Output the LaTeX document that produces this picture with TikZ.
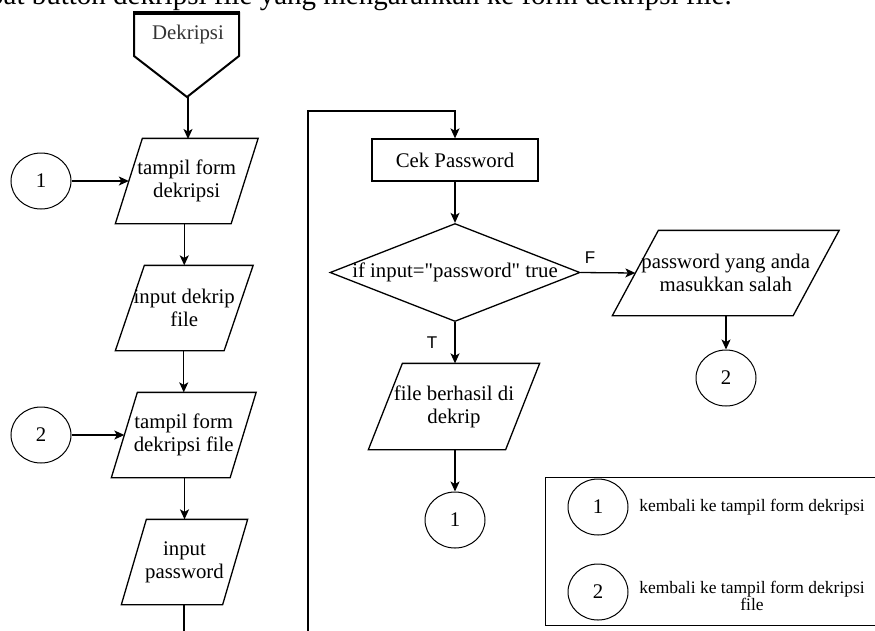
\documentclass[tikz,border=0pt]{standalone}
\usepackage{fontspec}
\setmainfont{Liberation Serif}[Ligatures=TeXOff]
\newfontfamily\labelsans{Liberation Sans}
\usetikzlibrary{shapes.geometric,arrows.meta,calc}
% parallelogram around a (mid-height sized) text node: #1 node name, #2 half slant
\newcommand\ioframe[2]{%
  \draw ($(#1.south west)+(-#2,0)$) -- ($(#1.south east)+(-#2,0)$)
     -- ($(#1.north east)+(#2,0)$) -- ($(#1.north west)+(#2,0)$) -- cycle;}
\begin{document}
\begin{tikzpicture}[x=1pt,y=-1pt,
  line width=1.3pt,
  arr/.style={-{Stealth[length=10pt,width=9pt,inset=2.5pt]}},
  bodytext/.style={font=\fontsize{20.8}{23}\selectfont, align=center},
  io/.style={bodytext, rectangle, inner sep=0pt, minimum height=84pt},
  conn/.style={draw, ellipse, line width=1pt, inner sep=0pt,
    minimum width=60pt, minimum height=56pt,
    font=\fontsize{20.8}{23}\selectfont},
  procbox/.style={bodytext, draw, rectangle, minimum width=166pt, minimum height=42pt},
  decision/.style={draw, diamond, inner sep=0pt, minimum width=250pt, minimum height=98pt},
  tflabel/.style={font=\labelsans\fontsize{17}{17}\selectfont, inner sep=0pt},
  legendtext/.style={font=\fontsize{17.5}{17}\selectfont, align=center},
]
\useasboundingbox (0,0) rectangle (875,630);
\clip (0,0) rectangle (875,630);

% running paragraph text above the chart
\node[anchor=base west, inner sep=0pt, font=\fontsize{29}{30}\selectfont]
  (para) at (-11.5,4) {pat button dekripsi file yang mengarahkan ke form dekripsi file.};

% off-page entry "Dekripsi"
\draw[line width=2pt, line join=miter] (134,13) -- (239,13) -- (239,56) -- (187,97) -- (134,56) -- cycle;
\draw[line width=3.2pt] (133,13) -- (240,13);
\node[bodytext, text=black!80] (dek) at (188,34) {Dekripsi};
\coordinate (dektip) at (188,97);

% left column
\node[io, minimum width=114.5pt] (p1) at (186.75,181) {tampil form\\dekripsi};
\ioframe{p1}{13.5}
\node[io, minimum width=107.5pt] (p2) at (184.25,308) {input dekrip\\file};
\ioframe{p2}{14.5}
\node[io, minimum width=117.5pt] (p3) at (183.75,435) {tampil form\\dekripsi file};
\ioframe{p3}{13}
\node[io, minimum width=100pt] (p4) at (184.5,562) {input\\password};
\ioframe{p4}{12.5}

\node[conn] (c1) at (41,181) {1};
\node[conn] (c2) at (41,435) {2};

\coordinate (p1in) at (188,139);
\coordinate (leftbottom) at (184,640);

\draw[arr] (dektip) -- (p1in);
\draw[arr] (c1) -- (p1.west);
\draw[arr] (p1.south -| p2.north) -- (p2.north);
\draw[arr] (p2.south -| p3.north) -- (p3.north);
\draw[arr] (c2) -- (p3.west);
\draw[arr] (p3.south -| p4.north) -- (p4.north);
\draw (p4.south -| leftbottom) -- (leftbottom);

% right column
\coordinate (loopbottom) at (308,640);
\coordinate (looptop) at (455,111);
\node[procbox] (cek) at (455,160) {Cek Password};
\node[decision] (dec) at (455,272.5) {};
\node[bodytext, inner sep=0pt] (dectext) at (dec.center) {if input="password" true};

\node[io, minimum width=179.5pt] (pw) at (725.75,273) {password yang anda\\masukkan salah};
\ioframe{pw}{23}
\node[conn] (c2r) at (726,378) {2};

\node[io, minimum width=136pt, minimum height=85pt] (fb) at (454,406.5) {file berhasil di\\dekrip};
\ioframe{fb}{17}
\node[conn] (c1r) at (455,520) {1};

\draw[arr] (loopbottom) |- (looptop) -- (cek.north);
\draw[arr] (cek) -- (dec);
\draw[arr] (dec.east) -- (pw.west);
\draw[arr] (dec.south) -- (dec.south |- fb.north);
\draw[arr] (pw.south -| c2r) -- (c2r);
\draw[arr] (fb.south -| c1r) -- (c1r);

\node[tflabel] (flab) at (590,258) {F};
\node[tflabel] (tlab) at (432,343) {T};

% legend
\node[draw, rectangle, anchor=north west, inner sep=0pt,
  minimum width=340pt, minimum height=148pt] (legend) at (545,477) {};
\node[conn] (lg1) at (598,507) {1};
\node[conn] (lg2) at (598,592) {2};
\node[legendtext] (lt1) at (752,507) {kembali ke tampil form dekripsi};
\node[legendtext] (lt2) at (752,596) {kembali ke tampil form dekripsi\\file};
\end{tikzpicture}
\end{document}
